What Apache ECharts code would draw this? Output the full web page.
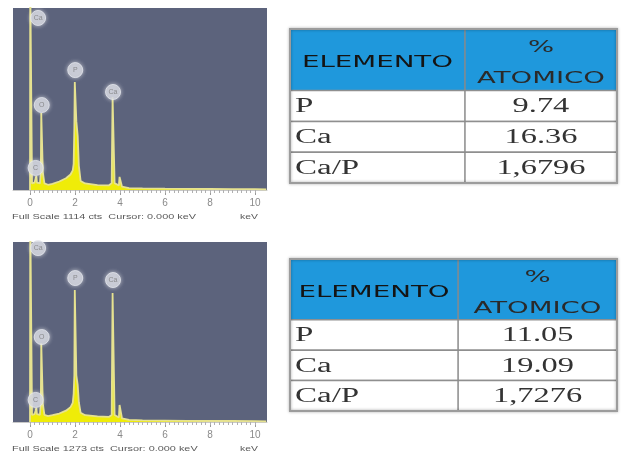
<!DOCTYPE html>
<html><head><meta charset="utf-8">
<script src="https://cdn.jsdelivr.net/npm/echarts@6/dist/echarts.min.js"></script>
<style>html,body{margin:0;padding:0;background:#fff}#c{width:621px;height:456px}</style>
</head><body><div id="c"></div>
<script>
// ---- Spectrum 1 (Full Scale 1114 cts) ----
const spec1KeV    = [0.00,0.01,0.06,0.09,0.20,0.25,0.28,0.31,0.44,0.48,0.50,0.54,0.57,0.64,0.80,1.00,1.30,1.60,1.80,1.90,1.94,1.97,1.99,2.03,2.06,2.12,2.17,2.25,2.45,3.00,3.50,3.63,3.67,3.72,3.76,3.95,3.98,4.05,4.09,4.40,5.00,6.00,7.00,8.00,9.00,10.00,10.50];
const spec1Counts = [0,1300,1300,40,45,70,85,45,40,110,471,471,110,40,32,38,52,72,95,120,160,380,661,661,420,330,150,55,40,30,28,42,569,569,42,28,80,80,20,12,10,8,7,6,5,5,4];
const spec1FullScale = 1114;
// ---- Spectrum 2 (Full Scale 1273 cts) ----
const spec2KeV    = [0.00,0.01,0.06,0.09,0.20,0.25,0.28,0.31,0.44,0.48,0.50,0.54,0.57,0.64,0.80,1.00,1.30,1.60,1.80,1.90,1.94,1.97,1.99,2.03,2.06,2.12,2.17,2.25,2.45,3.00,3.50,3.63,3.67,3.72,3.76,3.95,3.98,4.05,4.09,4.40,5.00,6.00,7.00,8.00,9.00,10.00,10.50];
const spec2Counts = [0,1500,1500,50,55,80,100,55,50,130,559,559,130,50,42,48,60,80,105,135,200,330,933,933,330,260,140,65,48,40,36,50,912,912,50,32,120,120,25,15,12,10,8,7,7,6,5];
const spec2FullScale = 1273;
// ---- Peak labels ----
const peakNames = ['Ca','C','O','P','Ca'];
const peakKeV = [0.36,0.25,0.52,2.01,3.69];
const peak1LabelCounts = [1053,135,520,734,600];
const peak2LabelCounts = [1230,156,601,1018,1004];
const keVTickLabels = [0,2,4,6,8,10];
const caption1 = 'Full Scale 1114 cts  Cursor: 0.000 keV';
const caption2 = 'Full Scale 1273 cts  Cursor: 0.000 keV';
// ---- Tables ----
const headerElemento = 'ELEMENTO';
const headerAtomico = '%\nATOMICO';
const tableElements = ['P','Ca','Ca/P'];
const table1Values = ['9.74','16.36','1,6796'];
const table2Values = ['11.05','19.09','1,7276'];
const rowKeys = ['hdr-a','hdr-b'].concat(tableElements);

const BG = '#5c637c';
const chart = echarts.init(document.getElementById('c'), null, {renderer:'canvas'});

function zip(a,b){ return a.map((v,i)=>[v,b[i]]); }
const minorTicks = []; for (let i=0;i<=50;i++) minorTicks.push(+(i*0.2).toFixed(1));

function specAxes(gridIndex){
  return [
    {type:'value', gridIndex, min:-0.756, max:10.533, position:'bottom',
     axisLine:{show:true, lineStyle:{color:'#c8c8c8', width:1}},
     axisTick:{show:true, customValues:keVTickLabels, length:5, lineStyle:{color:'#9a9a9a'}},
     axisLabel:{show:true, customValues:keVTickLabels, margin:8, fontSize:10, color:'#8a8a8a', fontFamily:'Liberation Sans'},
     splitLine:{show:false}},
    {type:'value', gridIndex, min:-0.756, max:10.533, position:'bottom',
     axisLine:{show:false}, axisLabel:{show:false}, splitLine:{show:false},
     axisTick:{show:true, customValues:minorTicks, length:3, lineStyle:{color:'#b0b0b0'}}}
  ];
}
function tableXAxis(gridIndex){ return {type:'value', gridIndex, min:0, max:1, show:false}; }
function tableYAxis(gridIndex){ return {type:'category', gridIndex, data:rowKeys, inverse:true, show:false}; }

function tableRender(values, split){
  return function(params, api){
    const cs = params.coordSys;
    const i = params.dataIndex;
    const band = api.size([0,1])[1];
    const cy = api.coord([0, api.value(1)])[1];
    const x0 = cs.x, xs = cs.x + cs.width*split, x1 = cs.x + cs.width;
    const children = [];
    if (i === 0) {
      const top = cy - band/2, h = band*2;
      children.push({type:'rect', shape:{x:x0,y:top,width:cs.width,height:h}, style:{fill:'#1f98dc', stroke:'#8f8f8f', lineWidth:1}});
      children.push({type:'line', shape:{x1:xs,y1:top,x2:xs,y2:top+h}, style:{stroke:'#8a8a8a', lineWidth:1.5}});
      children.push({type:'text', x:(x0+xs)/2, y:top+h/2+3, scaleX:1.73,
        style:{text:headerElemento, fontSize:16, fontFamily:'DejaVu Sans', fill:'#141414', align:'center', verticalAlign:'middle'}});
      children.push({type:'text', x:(xs+x1)/2, y:top+h/2+4, scaleX:1.72,
        style:{text:headerAtomico, fontSize:16, lineHeight:31, fontFamily:'DejaVu Sans', fill:'#2a2a2a', align:'center', verticalAlign:'middle'}});
      children.push({type:'rect', z2:20, shape:{x:cs.x,y:cs.y,width:cs.width,height:cs.height},
        style:{fill:null, stroke:'#9c9c9c', lineWidth:2, shadowBlur:3, shadowColor:'rgba(0,0,0,0.35)'}});
    } else {
      const top = cy - band/2, h = band;
      const k = i - 1;
      children.push({type:'rect', shape:{x:x0,y:top,width:cs.width,height:h}, style:{fill:'#ffffff', stroke:'#8f8f8f', lineWidth:1.5}});
      children.push({type:'line', shape:{x1:xs,y1:top,x2:xs,y2:top+h}, style:{stroke:'#8a8a8a', lineWidth:1.5}});
      children.push({type:'text', x:x0+5, y:top+h/2+1, scaleX:1.65,
        style:{text:tableElements[k], fontSize:20, fontFamily:'Liberation Serif', fill:'#333', align:'left', verticalAlign:'middle'}});
      children.push({type:'text', x:(xs+x1)/2, y:top+h/2+1, scaleX:1.62,
        style:{text:values[k], fontSize:20, fontFamily:'Liberation Serif', fill:'#333', align:'center', verticalAlign:'middle'}});
    }
    return {type:'group', children};
  };
}
function tableData(){ return [[0.5,0]].concat(tableElements.map((e,i)=>[0.5,i+2])); }

function labelSeries(xi, yi, counts){
  return {type:'scatter', xAxisIndex:xi, yAxisIndex:yi, symbolSize:15, silent:true, z:5,
    itemStyle:{color:'#cdd0da', borderColor:'#e6e8ef', borderWidth:1, shadowBlur:4, shadowColor:'rgba(255,255,255,0.7)'},
    label:{show:true, position:'inside', formatter:p=>p.name, fontSize:7, color:'#7a7a7a', fontFamily:'Liberation Sans'},
    data: peakKeV.map((k,i)=>({name:peakNames[i], value:[k, counts[i]]}))};
}
function specSeries(xi, yi, kev, counts){
  return {type:'line', xAxisIndex:xi, yAxisIndex:yi, data:zip(kev,counts), showSymbol:false, silent:true, clip:true,
    lineStyle:{color:'#e6e290', width:1.8}, areaStyle:{color:'#efec08', opacity:1}};
}

const option = {
  animation:false,
  backgroundColor:'#ffffff',
  grid:[
    {left:13, top:8, width:254, height:182, show:true, backgroundColor:BG, borderWidth:0},
    {left:13, top:242, width:254, height:180, show:true, backgroundColor:BG, borderWidth:0},
    {left:290, top:29, width:327, height:154},
    {left:290, top:259, width:327, height:152}
  ],
  xAxis: specAxes(0).concat(specAxes(1)).concat([tableXAxis(2), tableXAxis(3)]),
  yAxis:[
    {type:'value', gridIndex:0, min:0, max:spec1FullScale, show:false},
    {type:'value', gridIndex:1, min:0, max:spec2FullScale, show:false},
    tableYAxis(2), tableYAxis(3)
  ],
  series:[
    specSeries(0,0,spec1KeV,spec1Counts),
    labelSeries(0,0,peak1LabelCounts),
    specSeries(2,1,spec2KeV,spec2Counts),
    labelSeries(2,1,peak2LabelCounts),
    {type:'custom', xAxisIndex:4, yAxisIndex:2, renderItem:tableRender(table1Values,0.535), data:tableData(), silent:true},
    {type:'custom', xAxisIndex:5, yAxisIndex:3, renderItem:tableRender(table2Values,0.514), data:tableData(), silent:true}
  ],
  graphic:[
    {type:'text', left:12, top:213, scaleX:1.36, style:{text:caption1, fontSize:8, fontFamily:'Liberation Sans', fill:'#5a5a5a'}},
    {type:'text', left:240, top:213, scaleX:1.3, style:{text:'keV', fontSize:8, fontFamily:'Liberation Sans', fill:'#5a5a5a'}},
    {type:'text', left:12, top:445, scaleX:1.36, style:{text:caption2, fontSize:8, fontFamily:'Liberation Sans', fill:'#5a5a5a'}},
    {type:'text', left:240, top:445, scaleX:1.3, style:{text:'keV', fontSize:8, fontFamily:'Liberation Sans', fill:'#5a5a5a'}}
  ]
};
chart.setOption(option);
</script></body></html>
